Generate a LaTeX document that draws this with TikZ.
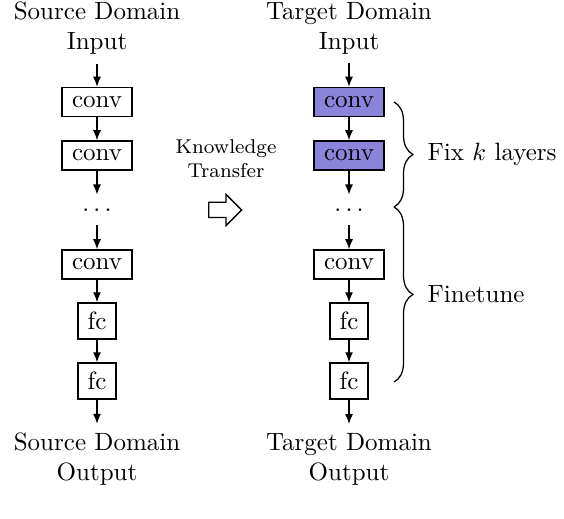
\documentclass[tikz,border=0pt]{standalone}
\usepackage[svgnames]{xcolor}
\usepackage{amsfonts, amsmath, amssymb}
\usetikzlibrary{arrows.meta,decorations.pathreplacing,shapes.arrows}
\definecolor{fixfill}{RGB}{140,131,218}

\begin{document}
\begin{tikzpicture}[x=.4pt, y=-.4pt, font=\normalsize,
	layer/.style={draw, line width=.6pt, inner sep=0pt, minimum width=28pt, minimum height=11.6pt},
	fclayer/.style={layer, minimum width=15.2pt, minimum height=14.4pt},
	frozen/.style={fill=fixfill},
	dataend/.style={align=center, inner sep=0pt},
	flow/.style={line width=.5pt, -{Latex[length=4pt,width=3.2pt]}},
	curly/.style={decorate, decoration={brace, amplitude=7.6pt}, line width=.5pt}]
	\useasboundingbox (0,0) rectangle (564,518);
	% source domain network
	\node[dataend] (srcin) at (97,28) {Source Domain\\Input};
	\node[layer] (sconvA) at (97,102) {conv};
	\node[layer] (sconvB) at (97,155.5) {conv};
	\node[inner sep=0pt, minimum height=12pt] (sdots) at (97,210) {$\ldots$};
	\node[layer] (sconvC) at (97,264.5) {conv};
	\node[fclayer] (sfcA) at (97,321) {fc};
	\node[fclayer] (sfcB) at (97,381) {fc};
	\node[dataend] (srcout) at (97,459.5) {Source Domain\\Output};
	\draw[flow, shorten <=3.6pt] (srcin) -- (sconvA);
	\draw[flow] (sconvA) -- (sconvB);
	\draw[flow] (sconvB) -- (sdots);
	\draw[flow] (sdots) -- (sconvC);
	\draw[flow] (sconvC) -- (sfcA);
	\draw[flow] (sfcA) -- (sfcB);
	\draw[flow, shorten >=3.6pt] (sfcB) -- (srcout);
	% transfer
	\node[dataend, font=\footnotesize] (know) at (226,159) {Knowledge\\Transfer};
	\node[single arrow, draw, line width=.5pt, inner xsep=0pt, inner ysep=2.8pt, minimum width=0pt,
		minimum height=13.2pt, single arrow head extend=3.2pt, anchor=tail] (push) at (208,210) {};
	% target domain network
	\node[dataend] (tgtin) at (349,28) {Target Domain\\Input};
	\node[layer, frozen] (tconvA) at (349,102) {conv};
	\node[layer, frozen] (tconvB) at (349,155.5) {conv};
	\node[inner sep=0pt, minimum height=12pt] (tdots) at (349,210) {$\ldots$};
	\node[layer] (tconvC) at (349,264.5) {conv};
	\node[fclayer] (tfcA) at (349,321) {fc};
	\node[fclayer] (tfcB) at (349,381) {fc};
	\node[dataend] (tgtout) at (349,459.5) {Target Domain\\Output};
	\draw[flow, shorten <=3.6pt] (tgtin) -- (tconvA);
	\draw[flow] (tconvA) -- (tconvB);
	\draw[flow] (tconvB) -- (tdots);
	\draw[flow] (tdots) -- (tconvC);
	\draw[flow] (tconvC) -- (tfcA);
	\draw[flow] (tfcA) -- (tfcB);
	\draw[flow, shorten >=3.6pt] (tfcB) -- (tgtout);
	% braces
	\draw[curly] (394,102) -- (394,207) node[midway, right=13.2pt, inner sep=0pt] (fixk) {Fix $k$ layers};
	\draw[curly] (394,207) -- (394,382) node[midway, right=13.2pt, inner sep=0pt] (tune) {Finetune};
\end{tikzpicture}
\end{document}
